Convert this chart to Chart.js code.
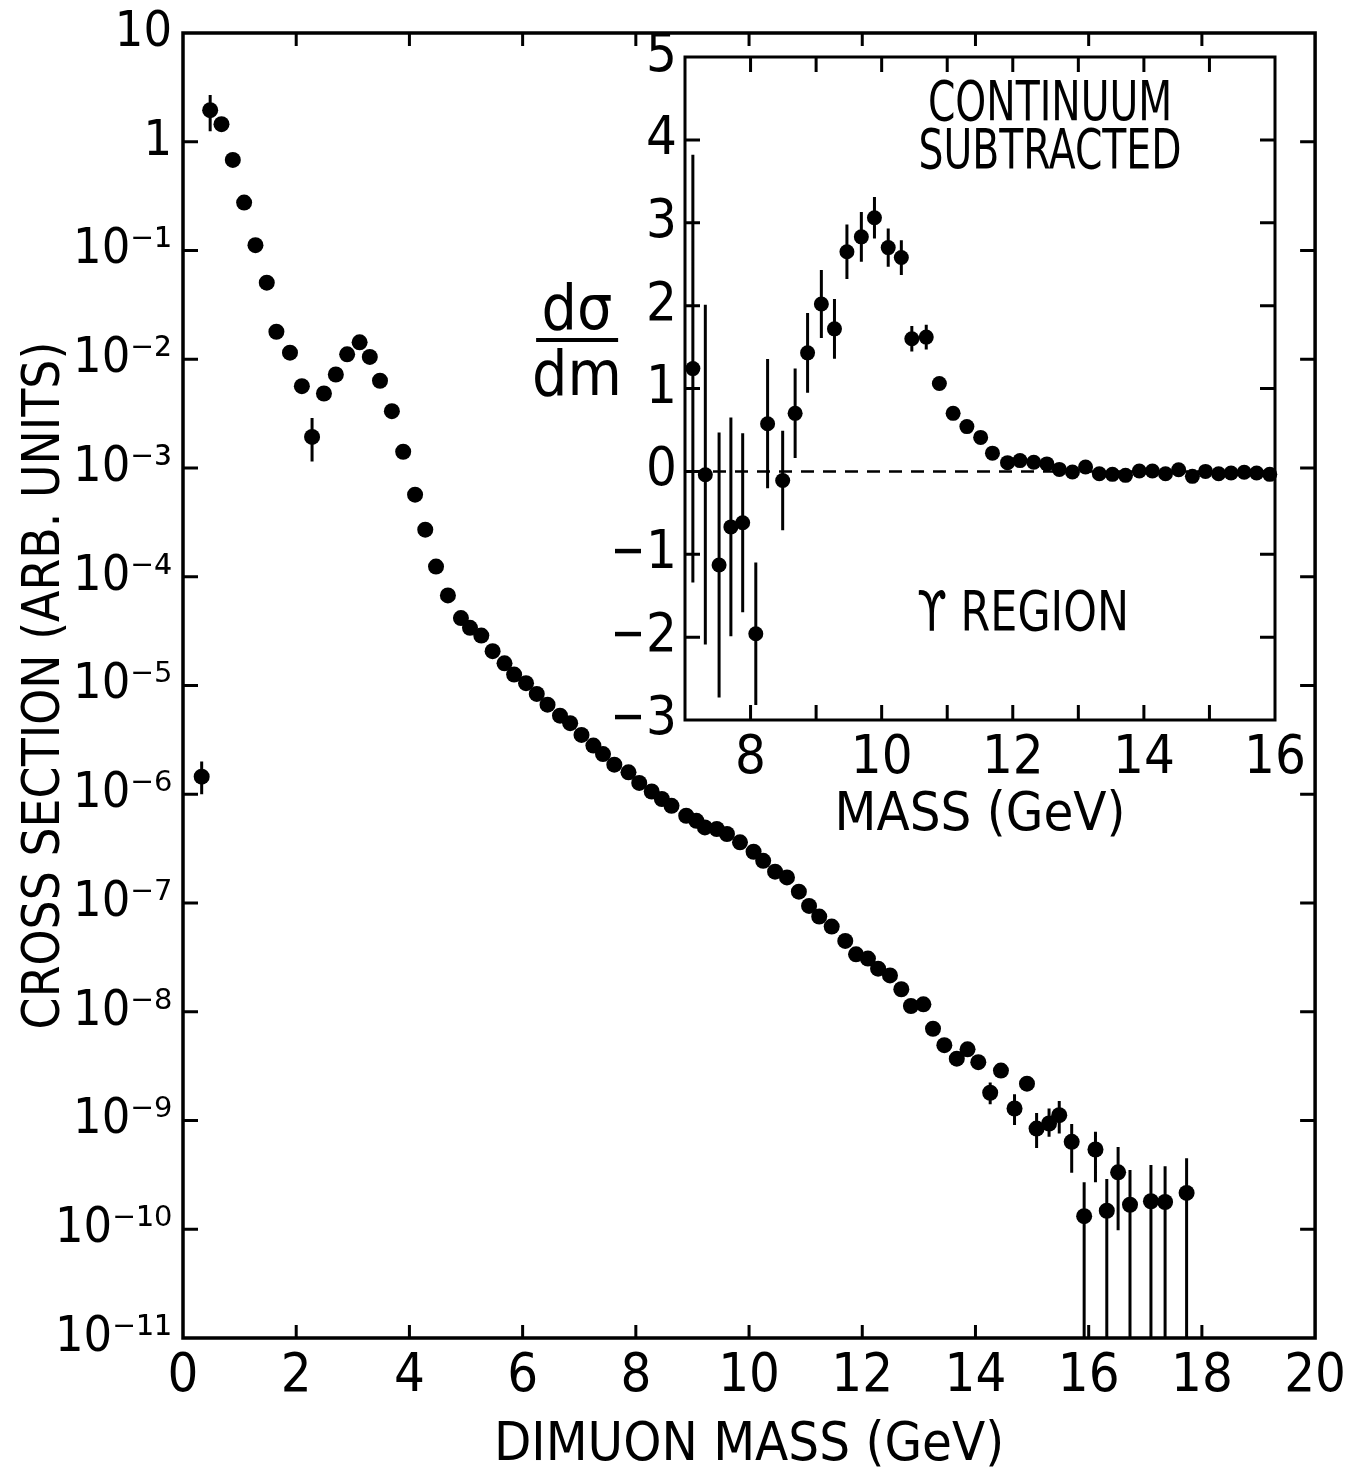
<!DOCTYPE html>
<html><head><meta charset="utf-8">
<script src="https://cdn.jsdelivr.net/npm/chart.js@4.4.1/dist/chart.umd.min.js"></script>
<style>
html,body{margin:0;padding:0;background:#fff;}
#wrap{position:relative;width:1347px;height:1468px;overflow:hidden;background:#fff;}
canvas{position:absolute;left:0;top:0;}
.ann{position:absolute;font-family:'DejaVu Sans Condensed','Liberation Sans Narrow',sans-serif;color:#000;white-space:nowrap;text-align:center;}
#cont{left:1050px;top:77px;font-size:56px;line-height:48px;transform:translateX(-50%) scaleX(0.78);}
#ups{left:1023px;top:587px;font-size:56px;line-height:48px;transform:translateX(-50%) scaleX(0.85);}
#frac{left:577px;top:280px;font-size:62px;line-height:56px;transform:translateX(-50%);}
#frac .bar{height:4px;background:#000;width:82px;margin:2px auto 4px;}
</style></head><body>
<div id="wrap">
<canvas id="mainChart" width="1347" height="1468"></canvas>
<canvas id="insetChart" width="1347" height="1468"></canvas>
<div class="ann" id="cont">CONTINUUM<br>SUBTRACTED</div>
<div class="ann" id="ups">ϒ REGION</div>
<div class="ann" id="frac"><div>dσ</div><div class="bar"></div><div>dm</div></div>
</div>
<script>
// ---------- main plot data ----------
const mainMass = [0.33,0.48,0.68,0.88,1.08,1.28,1.48,1.65,1.89,2.10,2.28,2.49,2.70,2.90,3.12,3.30,3.48,3.69,3.89,4.10,4.28,4.47,4.68,4.91,5.07,5.27,5.47,5.68,5.85,6.06,6.25,6.44,6.66,6.84,7.04,7.25,7.42,7.62,7.87,8.06,8.28,8.46,8.63,8.89,9.07,9.22,9.43,9.61,9.84,10.08,10.25,10.46,10.67,10.88,11.06,11.24,11.46,11.70,11.89,12.10,12.28,12.49,12.69,12.86,13.08,13.25,13.45,13.67,13.86,14.05,14.26,14.45,14.69,14.91,15.08,15.30,15.48,15.70,15.92,16.12,16.32,16.52,16.73,17.10,17.35,17.73];
const mainSigma = [1.45e-6,1.95,1.45,0.68,0.276,0.112,0.0506,0.0179,0.0115,0.00566,0.00193,0.00484,0.00724,0.0111,0.0143,0.0105,0.00634,0.00333,0.00141,5.69e-4,2.71e-4,1.24e-4,6.73e-5,4.17e-5,3.39e-5,2.88e-5,2.07e-5,1.60e-5,1.26e-5,1.05e-5,8.37e-6,6.67e-6,5.28e-6,4.50e-6,3.51e-6,2.80e-6,2.34e-6,1.87e-6,1.59e-6,1.27e-6,1.06e-6,9.04e-7,7.83e-7,6.34e-7,5.70e-7,4.95e-7,4.79e-7,4.31e-7,3.61e-7,2.96e-7,2.44e-7,1.94e-7,1.72e-7,1.27e-7,9.40e-8,7.50e-8,6.07e-8,4.48e-8,3.37e-8,3.08e-8,2.49e-8,2.16e-8,1.61e-8,1.13e-8,1.17e-8,6.98e-9,4.93e-9,3.70e-9,4.51e-9,3.44e-9,1.80e-9,2.88e-9,1.29e-9,2.18e-9,8.43e-10,9.38e-10,1.12e-9,6.37e-10,1.32e-10,5.41e-10,1.48e-10,3.34e-10,1.68e-10,1.81e-10,1.78e-10,2.16e-10];
// error bars of the main plot (mass, upper end, lower end)
const errMass = [0.33,0.48,2.28,14.26,14.69,15.08,15.30,15.48,15.70,15.92,16.12,16.32,16.52,16.73,17.10,17.35,17.73];
const errHigh = [2.0e-6,2.69,2.88e-3,2.24e-9,1.74e-9,1.17e-9,1.29e-9,1.51e-9,9.3e-10,2.7e-10,7.9e-10,2.9e-10,5.7e-10,3.5e-10,3.9e-10,3.8e-10,4.5e-10];
const errLow  = [1.0e-6,1.25,1.15e-3,1.41e-9,9.1e-10,5.6e-10,7.1e-10,7.6e-10,3.3e-10,1e-11,2.7e-10,1e-11,9.8e-11,1e-11,1e-11,1e-11,1e-11];
const mainXTickValues = [0,2,4,6,8,10,12,14,16,18,20];
const mainXTickLabels = ['0','2','4','6','8','10','12','14','16','18','20'];
const mainYTickValues = [1e-11,1e-10,1e-9,1e-8,1e-7,1e-6,1e-5,1e-4,1e-3,1e-2,1e-1,1,10];
const mainYTickLabels = ['10⁻¹¹','10⁻¹⁰','10⁻⁹','10⁻⁸','10⁻⁷','10⁻⁶','10⁻⁵','10⁻⁴','10⁻³','10⁻²','10⁻¹','1','10'];

// ---------- inset data ----------
const insetMass = [7.12,7.31,7.52,7.70,7.88,8.08,8.26,8.49,8.68,8.87,9.08,9.28,9.47,9.69,9.89,10.10,10.30,10.46,10.68,10.88,11.09,11.30,11.51,11.69,11.92,12.11,12.32,12.52,12.71,12.91,13.11,13.32,13.52,13.72,13.93,14.13,14.33,14.53,14.74,14.94,15.14,15.33,15.53,15.72,15.92];
const insetYield = [1.24,-0.04,-1.13,-0.67,-0.62,-1.96,0.575,-0.11,0.70,1.43,2.02,1.72,2.65,2.83,3.06,2.70,2.58,1.60,1.62,1.06,0.70,0.54,0.41,0.22,0.105,0.13,0.11,0.09,0.024,-0.008,0.052,-0.028,-0.036,-0.048,0.004,0.004,-0.028,0.02,-0.06,0.0,-0.028,-0.02,-0.01,-0.02,-0.036];
const insetErr = [2.58,2.05,1.6,1.32,1.08,0.86,0.78,0.6,0.54,0.48,0.41,0.36,0.33,0.3,0.25,0.23,0.21,0.155,0.15,0,0,0,0,0,0,0,0,0,0,0,0,0,0,0,0,0,0,0,0,0,0,0,0,0,0];
const insetXTickValues = [7,8,9,10,11,12,13,14,15,16];
const insetXTickLabels = ['','8','','10','','12','','14','','16'];
const insetYTickValues = [-3,-2,-1,0,1,2,3,4,5];
const insetYTickLabels = ['−3','−2','−1','0','1','2','3','4','5'];

const FONT = "'DejaVu Sans Condensed','Liberation Sans Narrow',sans-serif";

// frame + inward ticks on all four sides
const framePlugin = {
  id: 'frame',
  afterDatasetsDraw(chart, args, o) {
    const {ctx, chartArea: a, scales} = chart;
    ctx.save();
    ctx.strokeStyle = '#000';
    ctx.lineCap = 'square';
    ctx.lineWidth = o.lw;
    ctx.strokeRect(a.left, a.top, a.right - a.left, a.bottom - a.top);
    ctx.lineWidth = o.tw;
    ctx.lineCap = 'butt';
    ctx.beginPath();
    scales.x.ticks.forEach(t => {
      const p = scales.x.getPixelForValue(t.value);
      if (p <= a.left + 2 || p >= a.right - 2) return;
      ctx.moveTo(p, a.bottom); ctx.lineTo(p, a.bottom - o.xLen);
      ctx.moveTo(p, a.top); ctx.lineTo(p, a.top + o.xLen);
    });
    scales.y.ticks.forEach(t => {
      const p = scales.y.getPixelForValue(t.value);
      if (p <= a.top + 2 || p >= a.bottom - 2) return;
      ctx.moveTo(a.left, p); ctx.lineTo(a.left + o.yLen, p);
      ctx.moveTo(a.right, p); ctx.lineTo(a.right - o.yLen, p);
    });
    ctx.stroke();
    ctx.restore();
  }
};

// vertical error bars, drawn through the chart scales
const errPlugin = {
  id: 'errbars',
  beforeDatasetsDraw(chart, args, o) {
    const {ctx, chartArea: a, scales} = chart;
    ctx.save();
    ctx.beginPath();
    ctx.rect(a.left, a.top, a.right - a.left, a.bottom - a.top);
    ctx.clip();
    ctx.strokeStyle = '#000';
    ctx.lineWidth = o.lw;
    ctx.beginPath();
    o.bars().forEach(b => {
      const x = scales.x.getPixelForValue(b.x);
      ctx.moveTo(x, scales.y.getPixelForValue(b.hi));
      ctx.lineTo(x, scales.y.getPixelForValue(b.lo));
    });
    ctx.stroke();
    ctx.restore();
  }
};

// dashed zero line of the inset
const zeroPlugin = {
  id: 'zeroline',
  beforeDatasetsDraw(chart) {
    const {ctx, chartArea: a, scales} = chart;
    const y = scales.y.getPixelForValue(0);
    ctx.save();
    ctx.strokeStyle = '#000';
    ctx.lineWidth = 2.5;
    ctx.setLineDash([13, 9]);
    ctx.beginPath();
    ctx.moveTo(a.left + 6, y); ctx.lineTo(a.right, y);
    ctx.stroke();
    ctx.restore();
  }
};

new Chart(document.getElementById('mainChart'), {
  type: 'scatter',
  data: {datasets: [{
    data: mainMass.map((m, i) => ({x: m, y: mainSigma[i]})),
    pointRadius: 8, pointHoverRadius: 8, backgroundColor: '#000', borderColor: '#000', borderWidth: 0, clip: false
  }]},
  options: {
    responsive: false, animation: false, devicePixelRatio: 1, events: [],
    layout: {padding: {left: 0, top: 33, right: 31, bottom: 0}},
    plugins: {
      legend: {display: false}, tooltip: {enabled: false},
      frame: {lw: 3.5, tw: 3, xLen: 13, yLen: 15},
      errbars: {lw: 3, bars: () => errMass.map((x, i) => ({x, hi: errHigh[i], lo: errLow[i]}))}
    },
    scales: {
      x: {
        type: 'linear', min: 0, max: 20,
        afterBuildTicks: s => { s.ticks = mainXTickValues.map(v => ({value: v})); },
        ticks: {callback: (v, i) => mainXTickLabels[i], font: {family: FONT, size: 54, lineHeight: 1.4}, color: '#000', padding: 1, maxRotation: 0, autoSkip: false},
        grid: {display: false, drawTicks: false}, border: {display: false},
        title: {display: true, text: 'DIMUON MASS (GeV)', font: {family: FONT, size: 54, lineHeight: 0.8}, color: '#000', padding: {top: 0, bottom: 0}},
        afterFit: s => { s.height = 130; }
      },
      y: {
        type: 'logarithmic', min: 1e-11, max: 10,
        afterBuildTicks: s => { s.ticks = mainYTickValues.map(v => ({value: v})); },
        ticks: {callback: (v, i) => mainYTickLabels[i], font: {family: FONT, size: 50, lineHeight: 0.6}, color: '#000', padding: 11, autoSkip: false},
        grid: {display: false, drawTicks: false}, border: {display: false},
        title: {display: true, text: 'CROSS SECTION (ARB. UNITS)', font: {family: FONT, size: 51, lineHeight: 1}, color: '#000', padding: {top: 20, bottom: 0}},
        afterFit: s => { s.width = 183; }
      }
    }
  },
  plugins: [framePlugin, errPlugin]
});

new Chart(document.getElementById('insetChart'), {
  type: 'scatter',
  data: {datasets: [{
    data: insetMass.map((m, i) => ({x: m, y: insetYield[i]})),
    pointRadius: 7.5, pointHoverRadius: 7.5, backgroundColor: '#000', borderColor: '#000', borderWidth: 0, clip: false
  }]},
  options: {
    responsive: false, animation: false, devicePixelRatio: 1, events: [],
    layout: {padding: {left: 615, top: 57, right: 72, bottom: 618}},
    plugins: {
      legend: {display: false}, tooltip: {enabled: false},
      frame: {lw: 3, tw: 3, xLen: 15, yLen: 15},
      errbars: {lw: 3, bars: () => insetMass.map((x, i) => ({x, hi: insetYield[i] + insetErr[i], lo: insetYield[i] - insetErr[i], e: insetErr[i]})).filter(b => b.e > 0)}
    },
    scales: {
      x: {
        type: 'linear', min: 7, max: 16,
        afterBuildTicks: s => { s.ticks = insetXTickValues.map(v => ({value: v})); },
        ticks: {callback: (v, i) => insetXTickLabels[i], font: {family: FONT, size: 54, lineHeight: 1}, color: '#000', padding: 12, maxRotation: 0, autoSkip: false},
        grid: {display: false, drawTicks: false}, border: {display: false},
        title: {display: true, text: 'MASS (GeV)', font: {family: FONT, size: 54, lineHeight: 1}, color: '#000', padding: {top: 0, bottom: 7}},
        afterFit: s => { s.height = 130; }
      },
      y: {
        type: 'linear', min: -3, max: 5,
        afterBuildTicks: s => { s.ticks = insetYTickValues.map(v => ({value: v})); },
        ticks: {callback: (v, i) => insetYTickLabels[i], font: {family: FONT, size: 54, lineHeight: 1}, color: '#000', padding: 8, autoSkip: false},
        grid: {display: false, drawTicks: false}, border: {display: false},
        afterFit: s => { s.width = 70; }
      }
    }
  },
  plugins: [framePlugin, errPlugin, zeroPlugin]
});
</script>
</body></html>
